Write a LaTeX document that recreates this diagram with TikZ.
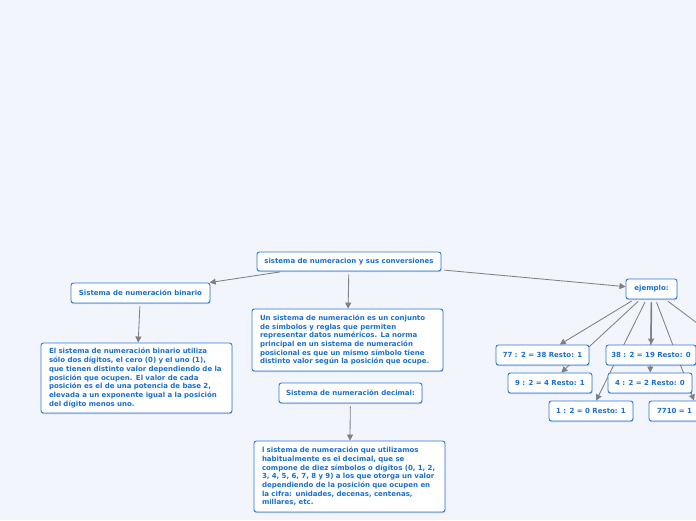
\documentclass[tikz,border=0pt]{standalone}
\usepackage{fontspec}
\setmainfont{DejaVu Sans}
\usetikzlibrary{arrows.meta,shadows}
\definecolor{bgc}{RGB}{243,245,252}
\definecolor{bordc}{RGB}{40,122,218}
\definecolor{txtc}{RGB}{26,112,207}
\definecolor{linec}{RGB}{128,128,132}
\pgfdeclarelayer{bg}
\pgfsetlayers{bg,main}
\tikzset{
  mbox/.style={draw=bordc, line width=0.9pt, fill=white, rounded corners=2.5pt,
    text=txtc, font=\fontsize{7}{8.7}\selectfont\bfseries, inner sep=0pt,
    drop shadow={shadow xshift=0.4pt, shadow yshift=-1.2pt, opacity=0.18, fill=black}},
  tbox/.style={mbox, align=left, inner xsep=8pt},
  conn/.style={draw=linec, line width=0.85pt, shorten <=3pt, -{Triangle[length=6pt,width=6pt]}},
}
\begin{document}
\begin{tikzpicture}[x=1pt,y=-1pt]
\begin{pgfonlayer}{bg}
\fill[bgc] (0,0) rectangle (696,520);
\end{pgfonlayer}
\useasboundingbox (0,0) rectangle (696,520);

\node[mbox, minimum width=184pt, minimum height=19pt] (root) at (349,261.5) {sistema de numeracion y sus conversiones};
\node[mbox, minimum width=139pt, minimum height=20pt] (bin) at (140.5,293) {Sistema de numeración binario};
\node[tbox, minimum width=191pt, minimum height=70pt, text width=175pt] (bintext) at (136.5,378) {El sistema de numeración binario utiliza\\sólo dos dígitos, el cero (0) y el uno (1),\\que tienen distinto valor dependiendo de la\\posición que ocupen. El valor de cada\\posición es el de una potencia de base 2,\\elevada a un exponente igual a la posición\\del dígito menos uno.};
\node[tbox, minimum width=191pt, minimum height=62pt, text width=175pt] (un) at (347.5,340) {Un sistema de numeración es un conjunto\\de símbolos y reglas que permiten\\representar datos numéricos. La norma\\principal en un sistema de numeración\\posicional es que un mismo símbolo tiene\\distinto valor según la posición que ocupe.};
\node[mbox, minimum width=143pt, minimum height=20pt] (dec) at (350.5,393) {Sistema de numeración decimal:};
\node[tbox, minimum width=191pt, minimum height=71pt, text width=175pt] (dectext) at (349.5,476.5) {l sistema de numeración que utilizamos\\habitualmente es el decimal, que se\\compone de diez símbolos o dígitos (0, 1, 2,\\3, 4, 5, 6, 7, 8 y 9) a los que otorga un valor\\dependiendo de la posición que ocupen en\\la cifra: unidades, decenas, centenas,\\millares, etc.};
\node[mbox, minimum width=51pt, minimum height=20pt] (ej) at (651.5,289) {ejemplo:};
\node[mbox, minimum width=93pt, minimum height=20pt] (b77) at (542.5,355) {77 : 2 = 38 Resto: 1};
\node[mbox, minimum width=90pt, minimum height=20pt] (b38) at (651,355) {38 : 2 = 19 Resto: 0};
\node[mbox, minimum width=84pt, minimum height=20pt] (b9) at (550,383) {9 : 2 = 4 Resto: 1};
\node[mbox, minimum width=84pt, minimum height=20pt] (b4) at (650,383) {4 : 2 = 2 Resto: 0};
\node[mbox, minimum width=84pt, minimum height=20pt] (b1) at (591,411) {1 : 2 = 0 Resto: 1};
\node[mbox, minimum width=98pt, minimum height=20pt, text width=82pt, align=left, inner xsep=8pt] (b7710) at (698,411) {7710 = 1};
\coordinate (offr) at (760,370);

\begin{pgfonlayer}{bg}
\draw[conn] (root) -- (bin);
\draw[conn] (root) -- (un);
\draw[conn] (root) -- (ej);
\draw[conn] (bin) -- (bintext);
\draw[conn] (dec) -- (dectext);
\draw[conn] (ej) -- (b77);
\draw[conn] (ej) -- (b9);
\draw[conn] (ej) -- (b1);
\draw[conn, line width=1.5pt] (ej) -- (b38);
\draw[conn] (ej) -- (b4);
\draw[conn] (ej) -- (b7710);
\draw[draw=linec, line width=0.85pt, shorten <=3pt] (ej) -- (offr);
\end{pgfonlayer}
\end{tikzpicture}
\end{document}
